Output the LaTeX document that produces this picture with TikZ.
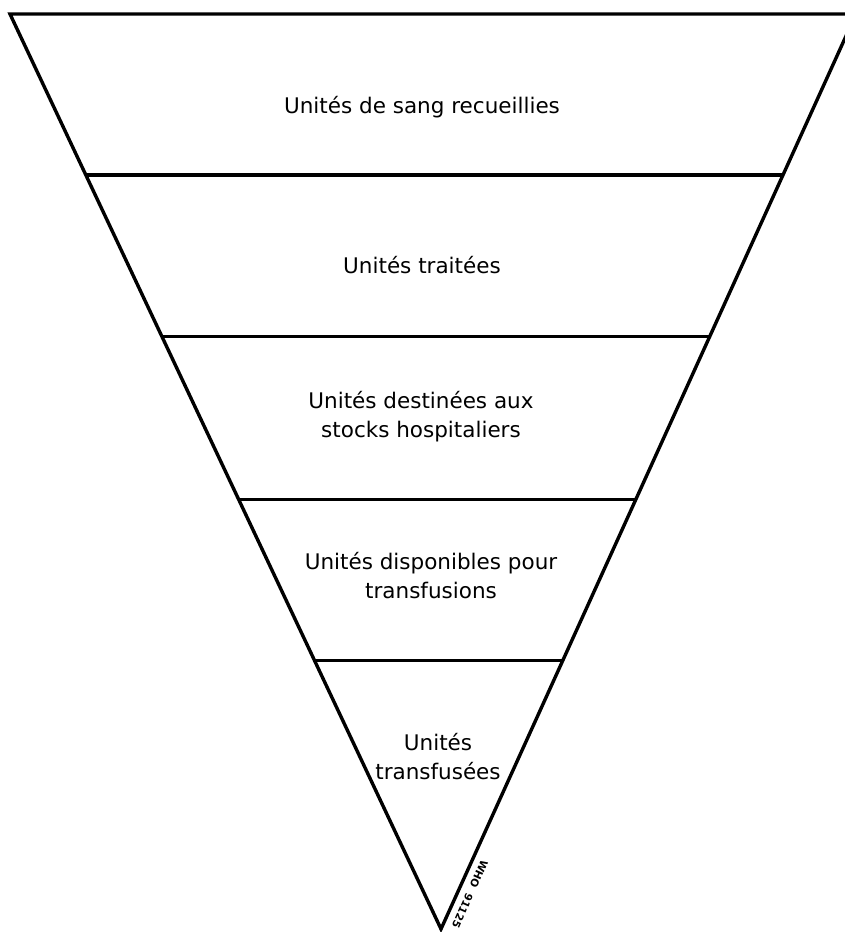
\documentclass[tikz,border=0pt]{standalone}
\usepackage{fontspec}
\setmainfont{DejaVu Sans}
\usetikzlibrary{calc,positioning}
\tikzset{
  funnel/.style={line width=3.4pt, line join=miter},
  divider/.style={line width=3.1pt},
  stagetext/.style={align=center, font=\fontsize{21.5}{29}\selectfont, inner sep=0pt},
  reftext/.style={font=\bfseries\fontsize{10.5}{12}\selectfont, inner sep=0pt}
}

\begin{document}
\begin{tikzpicture}[x=1pt, y=-1pt]
\useasboundingbox (0,0) rectangle (845,932);
\clip (0,0) rectangle (845,932);

% corners of the funnel
\coordinate (tl) at (10,14);
\coordinate (tr) at (856,14);
\coordinate (apex) at (441,929);

\draw[funnel] (tl) -- (tr) -- (apex) -- cycle;

% horizontal dividers
\foreach \t [count=\i] in {0.176,0.352,0.531,0.707}{
  \coordinate (l\i) at ($(tl)!\t!(apex)$);
  \coordinate (r\i) at ($(tr)!\t!(apex)$);
  \draw[divider] (l\i) -- (r\i);
}

\node[stagetext] (collected) at (422,107) {Unités de sang recueillies};
\node[stagetext] (processed) at (422,265) {Unités traitées};
\node[stagetext] (stocks) at (421,417) {Unités destinées aux\\stocks hospitaliers};
\node[stagetext] (available) at (431,576) {Unités disponibles pour\\transfusions};
\node[stagetext] (transfused) at (438,757) {Unités\\transfusées};

\node[reftext, rotate=-114] (whoref) at (470,894) {WHO~~91125};
\end{tikzpicture}
\end{document}
